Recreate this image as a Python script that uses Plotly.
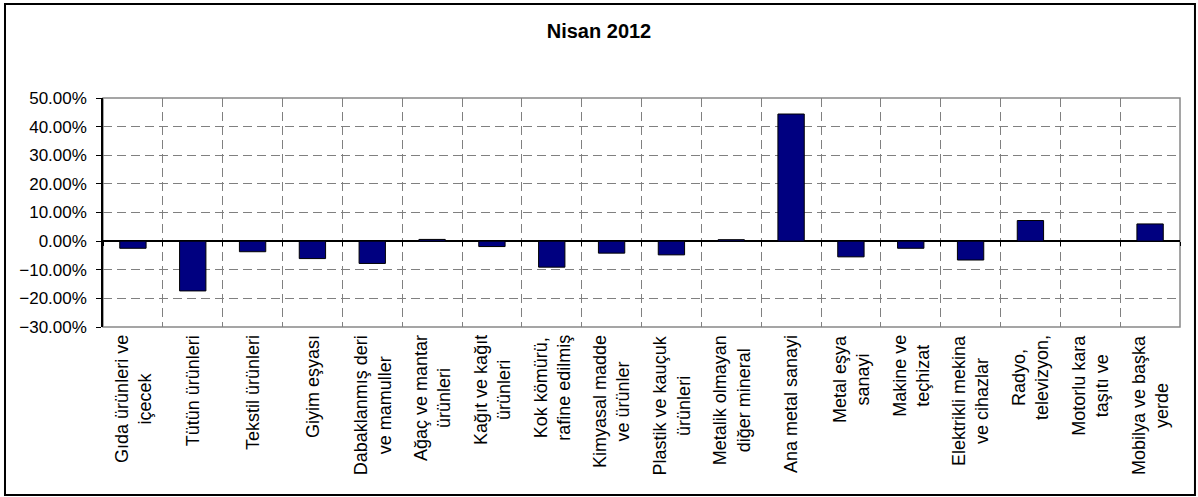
import plotly.graph_objects as go

categories = [
    "Gıda ürünleri ve<br>içecek", "Tütün ürünleri", "Tekstil ürünleri", "Giyim eşyası",
    "Dabaklanmış deri<br>ve mamuller", "Ağaç ve mantar<br>ürünleri", "Kağıt ve kağıt<br>ürünleri",
    "Kok kömürü,<br>rafine edilmiş", "Kimyasal madde<br>ve ürünler", "Plastik ve kauçuk<br>ürünleri",
    "Metalik olmayan<br>diğer mineral", "Ana metal sanayi", "Metal eşya<br>sanayi",
    "Makine ve<br>teçhizat", "Elektrikli mekina<br>ve cihazlar", "Radyo,<br>televizyon,",
    "Motorlu kara<br>taşıtı ve", "Mobilya ve başka<br>yerde",
]
values = [
    -0.025, -0.174, -0.037, -0.061, -0.078, 0.006, -0.019, -0.091, -0.042,
    -0.048, 0.005, 0.444, -0.055, -0.025, -0.066, 0.072, None, 0.060,
]
y_ticks = [-0.3, -0.2, -0.1, 0.0, 0.1, 0.2, 0.3, 0.4, 0.5]
y_min, y_max = -0.3, 0.5

FONT = "Liberation Sans, Arial, sans-serif"

fig = go.Figure()
fig.add_trace(go.Bar(
    x=list(range(len(categories))), y=values,
    marker=dict(color="#000080", line=dict(color="#000000", width=1)),
    width=0.44,
))

for i, c in enumerate(categories):
    fig.add_annotation(
        x=i, y=0, xref="x", yref="paper", text=c, textangle=-90,
        xanchor="center", yanchor="top", yshift=-6, showarrow=False,
        align="center", font=dict(family=FONT, size=18, color="#000000"),
    )

# outer chart border and plot frame
fig.add_shape(type="rect", xref="paper", yref="paper", x0=-0.091, x1=1.0139, y0=-0.7336, y1=1.4105,
              line=dict(color="#000000", width=2), layer="below")
fig.add_shape(type="rect", xref="paper", yref="paper", x0=0, x1=1, y0=0, y1=1,
              line=dict(color="#888888", width=1.5), layer="below")

fig.update_layout(
    width=1198, height=497,
    margin=dict(l=103, r=18, t=98, b=170),
    paper_bgcolor="white", plot_bgcolor="white",
    showlegend=False,
    title=dict(text="Nisan 2012", x=0.5, xanchor="center", y=1 - 31 / 497, yanchor="middle",
               xref="container",
               font=dict(family=FONT, size=20, color="#000000", weight="bold")),
    font=dict(family=FONT, size=15, color="#000000"),
    xaxis=dict(
        type="linear", range=[-0.5, len(categories) - 0.5],
        tickvals=[i - 0.5 for i in range(len(categories) + 1)],
        showticklabels=False, ticks="outside", ticklen=4, tickcolor="#000000", tickwidth=1,
        anchor="free", position=(0 - y_min) / (y_max - y_min),
        showgrid=True, gridcolor="#808080", griddash="9px,5px", gridwidth=1,
        zeroline=False, showline=False,
    ),
    yaxis=dict(
        range=[y_min, y_max], tickvals=y_ticks, tickformat=".2%",
        ticks="outside", ticklen=5, tickcolor="#000000",
        ticklabelstandoff=6,
        showgrid=True, gridcolor="#808080", griddash="9px,5px", gridwidth=1,
        zeroline=True, zerolinecolor="#000000", zerolinewidth=1.5,
        showline=True, linecolor="#000000", linewidth=1.5,
        tickfont=dict(family=FONT, size=17, color="#000000"),
    ),
)

fig.write_html("out.html")
